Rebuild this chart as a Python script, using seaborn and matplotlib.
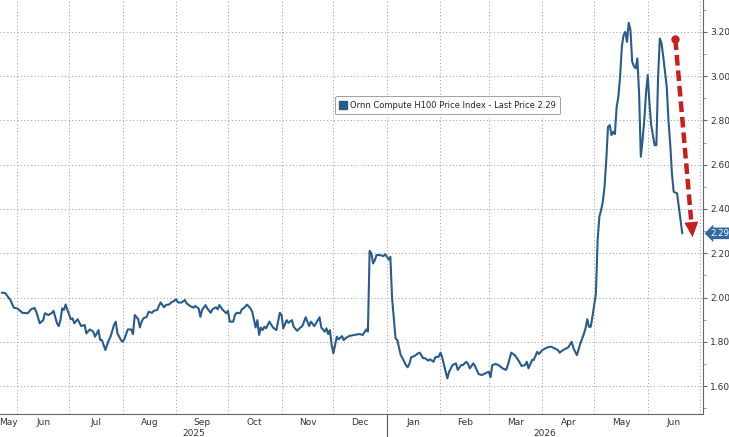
import matplotlib
matplotlib.use("Agg")
import matplotlib.pyplot as plt
import matplotlib.dates as mdates
import matplotlib.transforms as mtransforms
from matplotlib.lines import Line2D
from matplotlib.ticker import FixedLocator, FixedFormatter, NullFormatter, MultipleLocator, FormatStrFormatter
import numpy as np
import pandas as pd
import seaborn as sns

# --- data ---
dates = [
    "2025-05-23", "2025-05-25", "2025-05-28", "2025-05-30", "2025-06-01", "2025-06-04", "2025-06-07", "2025-06-09",
    "2025-06-11", "2025-06-12", "2025-06-14", "2025-06-16", "2025-06-17", "2025-06-19", "2025-06-21", "2025-06-22",
    "2025-06-24", "2025-06-25", "2025-06-26", "2025-06-27", "2025-06-28", "2025-06-29", "2025-06-30", "2025-07-02",
    "2025-07-03", "2025-07-04", "2025-07-06", "2025-07-08", "2025-07-10", "2025-07-11", "2025-07-13", "2025-07-15",
    "2025-07-16", "2025-07-18", "2025-07-19", "2025-07-20", "2025-07-22", "2025-07-24", "2025-07-25", "2025-07-27",
    "2025-07-28", "2025-07-29", "2025-07-31", "2025-08-01", "2025-08-02", "2025-08-04", "2025-08-06", "2025-08-07",
    "2025-08-08", "2025-08-10", "2025-08-11", "2025-08-12", "2025-08-13", "2025-08-15", "2025-08-16", "2025-08-18",
    "2025-08-19", "2025-08-21", "2025-08-22", "2025-08-23", "2025-08-25", "2025-08-26", "2025-08-28", "2025-08-29",
    "2025-08-31", "2025-09-01", "2025-09-02", "2025-09-04", "2025-09-06", "2025-09-07", "2025-09-09", "2025-09-11",
    "2025-09-12", "2025-09-13", "2025-09-14", "2025-09-15", "2025-09-16", "2025-09-18", "2025-09-19", "2025-09-21",
    "2025-09-22", "2025-09-24", "2025-09-25", "2025-09-26", "2025-09-28", "2025-09-30", "2025-10-01", "2025-10-02",
    "2025-10-04", "2025-10-05", "2025-10-06", "2025-10-08", "2025-10-09", "2025-10-10", "2025-10-12", "2025-10-14",
    "2025-10-15", "2025-10-17", "2025-10-18", "2025-10-19", "2025-10-20", "2025-10-21", "2025-10-22", "2025-10-23",
    "2025-10-25", "2025-10-27", "2025-10-29", "2025-10-31", "2025-11-01", "2025-11-02", "2025-11-04", "2025-11-05",
    "2025-11-07", "2025-11-08", "2025-11-10", "2025-11-12", "2025-11-13", "2025-11-15", "2025-11-17", "2025-11-18",
    "2025-11-20", "2025-11-22", "2025-11-23", "2025-11-24", "2025-11-26", "2025-11-27", "2025-11-28", "2025-11-29",
    "2025-11-30", "2025-12-01", "2025-12-03", "2025-12-04", "2025-12-06", "2025-12-07", "2025-12-08", "2025-12-10",
    "2025-12-13", "2025-12-16", "2025-12-18", "2025-12-20", "2025-12-21", "2025-12-22", "2025-12-23", "2025-12-24",
    "2025-12-25", "2025-12-26", "2025-12-28", "2025-12-30", "2025-12-31", "2026-01-01", "2026-01-02", "2026-01-03",
    "2026-01-04", "2026-01-06", "2026-01-07", "2026-01-09", "2026-01-10", "2026-01-12", "2026-01-13", "2026-01-14",
    "2026-01-15", "2026-01-17", "2026-01-19", "2026-01-20", "2026-01-22", "2026-01-23", "2026-01-25", "2026-01-26",
    "2026-01-28", "2026-01-29", "2026-01-31", "2026-02-01", "2026-02-02", "2026-02-04", "2026-02-05", "2026-02-06",
    "2026-02-08", "2026-02-10", "2026-02-11", "2026-02-13", "2026-02-14", "2026-02-16", "2026-02-17", "2026-02-18",
    "2026-02-20", "2026-02-21", "2026-02-23", "2026-02-25", "2026-02-27", "2026-03-01", "2026-03-02", "2026-03-03",
    "2026-03-05", "2026-03-07", "2026-03-09", "2026-03-11", "2026-03-12", "2026-03-14", "2026-03-16", "2026-03-18",
    "2026-03-20", "2026-03-22", "2026-03-23", "2026-03-24", "2026-03-26", "2026-03-27", "2026-03-29", "2026-03-30",
    "2026-04-01", "2026-04-03", "2026-04-04", "2026-04-06", "2026-04-08", "2026-04-10", "2026-04-11", "2026-04-13",
    "2026-04-15", "2026-04-16", "2026-04-18", "2026-04-19", "2026-04-21", "2026-04-23", "2026-04-25", "2026-04-26",
    "2026-04-27", "2026-04-28", "2026-04-29", "2026-04-30", "2026-05-01", "2026-05-02", "2026-05-03", "2026-05-04",
    "2026-05-05", "2026-05-06", "2026-05-07", "2026-05-08", "2026-05-09", "2026-05-10", "2026-05-11", "2026-05-12",
    "2026-05-13", "2026-05-14", "2026-05-15", "2026-05-16", "2026-05-17", "2026-05-18", "2026-05-19", "2026-05-20",
    "2026-05-21", "2026-05-22", "2026-05-23", "2026-05-24", "2026-05-25", "2026-05-26", "2026-05-27", "2026-05-28",
    "2026-05-29", "2026-05-30", "2026-05-31", "2026-06-01", "2026-06-02", "2026-06-03", "2026-06-04", "2026-06-05",
    "2026-06-06", "2026-06-07", "2026-06-08", "2026-06-09", "2026-06-10", "2026-06-12", "2026-06-13", "2026-06-14",
    "2026-06-15", "2026-06-16", "2026-06-18", "2026-06-19", "2026-06-20", "2026-06-21",
]
prices = [
    2.022, 2.020, 1.989, 1.954, 1.951, 1.931, 1.929, 1.947,
    1.953, 1.936, 1.884, 1.898, 1.929, 1.921, 1.930, 1.940,
    1.884, 1.871, 1.898, 1.951, 1.944, 1.969, 1.944, 1.902,
    1.906, 1.884, 1.902, 1.871, 1.876, 1.838, 1.856, 1.846,
    1.823, 1.853, 1.808, 1.808, 1.763, 1.808, 1.823, 1.876,
    1.891, 1.838, 1.808, 1.800, 1.813, 1.856, 1.856, 1.835,
    1.921, 1.902, 1.865, 1.891, 1.906, 1.913, 1.936, 1.931,
    1.940, 1.944, 1.962, 1.978, 1.956, 1.966, 1.969, 1.977,
    1.986, 1.992, 1.978, 1.977, 1.989, 1.974, 1.962, 1.954,
    1.962, 1.956, 1.951, 1.913, 1.944, 1.966, 1.951, 1.931,
    1.947, 1.956, 1.947, 1.966, 1.944, 1.929, 1.940, 1.891,
    1.891, 1.921, 1.931, 1.929, 1.947, 1.951, 1.968, 1.951,
    1.936, 1.865, 1.898, 1.831, 1.865, 1.853, 1.868, 1.861,
    1.891, 1.865, 1.853, 1.931, 1.921, 1.861, 1.898, 1.886,
    1.898, 1.868, 1.850, 1.865, 1.871, 1.911, 1.871, 1.891,
    1.871, 1.898, 1.911, 1.865, 1.846, 1.861, 1.835, 1.853,
    1.786, 1.748, 1.823, 1.811, 1.826, 1.808, 1.816, 1.826,
    1.831, 1.835, 1.831, 1.856, 1.846, 2.211, 2.200, 2.154,
    2.169, 2.192, 2.192, 2.187, 2.196, 2.184, 2.172, 2.184,
    1.996, 1.816, 1.808, 1.740, 1.727, 1.695, 1.685, 1.700,
    1.730, 1.736, 1.748, 1.751, 1.726, 1.726, 1.715, 1.721,
    1.710, 1.730, 1.733, 1.751, 1.730, 1.665, 1.635, 1.665,
    1.695, 1.703, 1.673, 1.695, 1.695, 1.710, 1.700, 1.680,
    1.703, 1.691, 1.655, 1.650, 1.658, 1.665, 1.640, 1.695,
    1.700, 1.693, 1.680, 1.673, 1.695, 1.751, 1.740, 1.718,
    1.691, 1.695, 1.710, 1.680, 1.718, 1.718, 1.755, 1.745,
    1.763, 1.771, 1.775, 1.778, 1.771, 1.763, 1.751, 1.763,
    1.771, 1.775, 1.800, 1.771, 1.740, 1.793, 1.835, 1.861,
    1.902, 1.868, 1.868, 1.913, 1.966, 2.019, 2.260, 2.365,
    2.395, 2.433, 2.500, 2.621, 2.771, 2.779, 2.734, 2.749,
    2.738, 2.861, 2.907, 2.997, 3.132, 3.185, 3.200, 3.155,
    3.241, 3.208, 3.065, 3.045, 3.035, 3.080, 2.922, 2.636,
    2.711, 2.801, 2.922, 3.005, 2.877, 2.779, 2.734, 2.688,
    2.688, 2.997, 3.170, 3.148, 3.087, 2.952, 2.801, 2.696,
    2.561, 2.478, 2.470, 2.410, 2.350, 2.290,
]
series_name = "Ornn Compute H100 Price Index - Last Price 2.29"
last_price = 2.29
y_ticks = [1.60, 1.80, 2.00, 2.20, 2.40, 2.60, 2.80, 3.00, 3.20]
year_labels = ["2025", "2026"]

# red trend arrow (annotation)
arrow_start = ("2026-06-17", 3.166)
arrow_tip = ("2026-06-27", 2.272)

df = pd.DataFrame({"date": pd.to_datetime(dates), "price": prices})

sns.set_theme(style="white")
plt.rcParams["font.family"] = ["DejaVu Sans"]

blue = "#295c8b"
red = "#c81e1e"
grey_txt = "#333333"

fig = plt.figure(figsize=(7.29, 4.37), dpi=100)
ax = fig.add_axes([0, 23 / 437, 703 / 729, 414 / 437])

sns.lineplot(data=df, x="date", y="price", ax=ax, color=blue, lw=1.5, legend=False)

x0, x1 = pd.Timestamp("2025-05-22"), pd.Timestamp("2026-07-03")
ax.set_xlim(x0, x1)
ax.set_ylim(1.474, 3.344)
ax.set_xlabel("")
ax.set_ylabel("")

# x axis: ticks at month starts, labels centred in each month
month_starts = pd.date_range("2025-05-01", "2026-08-01", freq="MS")
centers, names = [], []
for a, b in zip(month_starts[:-1], month_starts[1:]):
    lo, hi = max(a, x0), min(b, x1)
    if (hi - lo).days >= 6:
        centers.append(lo + (hi - lo) / 2)
        names.append(a.strftime("%b"))
ax.xaxis.set_major_locator(mdates.MonthLocator())
ax.xaxis.set_major_formatter(NullFormatter())
ax.xaxis.set_minor_locator(FixedLocator(mdates.date2num(centers)))
ax.xaxis.set_minor_formatter(FixedFormatter(names))
ax.tick_params(axis="x", which="minor", length=0, labelsize=6.5, pad=3, labelcolor=grey_txt)
ax.tick_params(axis="x", which="major", length=5, direction="inout", color="#666666", width=0.8)

for yr in year_labels:
    lo = max(pd.Timestamp(f"{yr}-01-01"), x0)
    hi = min(pd.Timestamp(f"{int(yr) + 1}-01-01"), x1)
    ax.annotate(yr, xy=(lo + (hi - lo) / 2, 0), xycoords=("data", "axes fraction"),
                xytext=(0, -10.5), textcoords="offset points", ha="center", va="top",
                fontsize=6.5, color=grey_txt, annotation_clip=False)

# long tick at the year boundary
jan1 = pd.Timestamp("2026-01-01")
ax.plot([jan1, jan1], [0, -0.06], transform=ax.get_xaxis_transform(), clip_on=False,
        color="#555555", lw=0.8)

# y axis on the right
ax.yaxis.tick_right()
ax.set_yticks(y_ticks)
ax.yaxis.set_major_formatter(FormatStrFormatter("%.2f"))
ax.yaxis.set_minor_locator(MultipleLocator(0.1))
ax.tick_params(axis="y", which="major", length=3, width=0.8, color="#666666",
               labelsize=6.5, pad=2, labelcolor=grey_txt)
ax.tick_params(axis="y", which="minor", right=True, length=2, width=0.6, color="#888888")

ax.grid(True, which="major", axis="both", linestyle=(0, (1, 2.5)), color="#9a9a9a", lw=0.7)
ax.spines[["left", "top"]].set_visible(False)
for s in ["right", "bottom"]:
    ax.spines[s].set_color("#666666")
    ax.spines[s].set_linewidth(0.8)

# legend
handle = Line2D([], [], marker="s", ls="none", color=blue, markersize=5.5)
leg = ax.legend([handle], [series_name], loc="upper left", bbox_to_anchor=(335 / 703, 1 - 96 / 414),
                fontsize=6.0, frameon=True, fancybox=True, borderpad=0.55, handlelength=0.8,
                handletextpad=0.4, borderaxespad=0)
leg.get_frame().set_edgecolor("#888888")
leg.get_frame().set_linewidth(0.7)

# last price tag
tag_tf = mtransforms.blended_transform_factory(ax.transAxes, ax.transData)
ax.text(1.011, last_price, f"{last_price:.2f}", transform=tag_tf, ha="left", va="center",
        fontsize=6.2, color="white", clip_on=False,
        bbox=dict(boxstyle="larrow,pad=0.15", fc="#35689f", ec="none"))

# red dashed arrow
s_x, s_y = mdates.date2num(pd.Timestamp(arrow_start[0])), arrow_start[1]
t_x, t_y = mdates.date2num(pd.Timestamp(arrow_tip[0])), arrow_tip[1]
frac = 0.91
b_x, b_y = s_x + (t_x - s_x) * frac, s_y + (t_y - s_y) * frac
ax.plot([s_x, b_x], [s_y, b_y], color=red, lw=3.2, dashes=(2.4, 1.1), solid_capstyle="butt",
        dash_capstyle="butt", zorder=5)
ax.plot([s_x], [s_y], "o", color=red, ms=5, zorder=6)
ax.annotate("", xy=(t_x, t_y), xytext=(b_x, b_y),
            arrowprops=dict(arrowstyle="-|>,head_length=1.1,head_width=0.5", mutation_scale=10,
                            color=red, lw=0, shrinkA=0, shrinkB=0), zorder=6)

fig.savefig("out.png", dpi=100)
